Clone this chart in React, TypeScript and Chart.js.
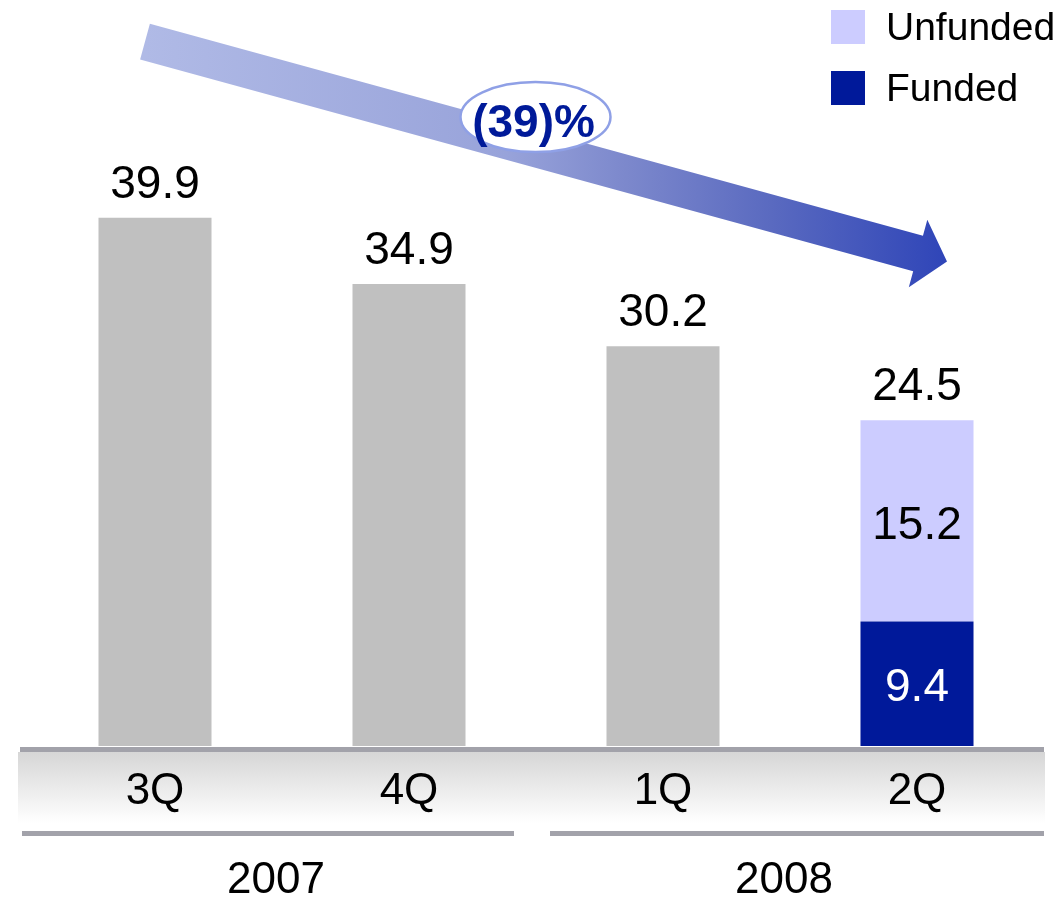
import React, { useEffect, useRef } from 'react';
import { Chart, registerables } from 'chart.js';

Chart.register(...registerables);

// ---- data ----
const categories = ['3Q', '4Q', '1Q', '2Q'];
const years = ['2007', '2008'];
const yearGroups = [[0, 1], [2, 3]];
const totalValues: (number | null)[] = [39.9, 34.9, 30.2, null];
const fundedValues: (number | null)[] = [null, null, null, 9.4];
const unfundedValues: (number | null)[] = [null, null, null, 15.2];
const stackTotals = [39.9, 34.9, 30.2, 24.5];
const yMax = 50;

const FONT = "'Liberation Sans', Arial, Helvetica, sans-serif";
const GRAY_BAR = '#c0c0c0';
const FUNDED = '#00199a';
const UNFUNDED = '#ccccff';
const AXIS_GRAY = '#a2a2aa';

const decorPlugin = {
  id: 'decor',
  afterDraw(chart: any) {
    const ctx: CanvasRenderingContext2D = chart.ctx;
    const ca = chart.chartArea;
    const xs = chart.scales.x;
    const ys = chart.scales.y;
    ctx.save();

    // bottom band with gradient
    const bandTop = ca.bottom + 6;
    const bandH = 71;
    const g = ctx.createLinearGradient(0, bandTop, 0, bandTop + bandH);
    g.addColorStop(0, '#d6d6d6');
    g.addColorStop(1, '#ffffff');
    ctx.fillStyle = g;
    ctx.fillRect(ca.left - 10, bandTop, ca.right - ca.left + 11, bandH);

    // baseline
    ctx.fillStyle = AXIS_GRAY;
    ctx.fillRect(ca.left - 8, ca.bottom + 1, ca.right - ca.left + 8, 5);

    // quarter labels
    ctx.fillStyle = '#000';
    ctx.font = `44px ${FONT}`;
    ctx.textAlign = 'center';
    ctx.textBaseline = 'alphabetic';
    categories.forEach((c, i) => {
      ctx.fillText(c, xs.getPixelForValue(i), ca.bottom + 58);
    });

    // year group lines and labels
    const catW = (ca.right - ca.left) / categories.length;
    yearGroups.forEach((grp, gi) => {
      const x0 = xs.getPixelForValue(grp[0]) - catW / 2;
      const x1 = xs.getPixelForValue(grp[1]) + catW / 2;
      const lx0 = gi === 0 ? x0 - 6 : x0 + 14;
      const lx1 = gi === 0 ? x1 - 22 : x1;
      ctx.fillStyle = AXIS_GRAY;
      ctx.fillRect(lx0, ca.bottom + 85, lx1 - lx0, 5);
      ctx.fillStyle = '#000';
      ctx.font = `44px ${FONT}`;
      const cx = (xs.getPixelForValue(grp[0]) + xs.getPixelForValue(grp[1])) / 2 - 6;
      ctx.fillText(years[gi], cx, ca.bottom + 147);
    });

    // trend arrow
    const p0x = xs.getPixelForValue(0) - 10;
    const p0y = ys.getPixelForValue(53.2);
    const tx = xs.getPixelForValue(3) + 30;
    const ty = ys.getPixelForValue(36.6);
    const dx = tx - p0x, dy = ty - p0y;
    const len = Math.hypot(dx, dy);
    const ux = dx / len, uy = dy / len;
    const nx = -uy, ny = ux;
    const hw = 18.5, headHW = 35, headLen = 30;
    const bx = tx - ux * headLen, by = ty - uy * headLen;
    const ag = ctx.createLinearGradient(p0x, 0, tx, 0);
    ag.addColorStop(0, '#b0bae6');
    ag.addColorStop(0.45, '#98a3da');
    ag.addColorStop(0.6, '#7c88cc');
    ag.addColorStop(0.78, '#5a6ac0');
    ag.addColorStop(1, '#2f45b8');
    ctx.fillStyle = ag;
    ctx.beginPath();
    ctx.moveTo(p0x - nx * hw, p0y - ny * hw);
    ctx.lineTo(bx - nx * hw, by - ny * hw);
    ctx.lineTo(bx - nx * headHW, by - ny * headHW);
    ctx.lineTo(tx, ty);
    ctx.lineTo(bx + nx * headHW, by + ny * headHW);
    ctx.lineTo(bx + nx * hw, by + ny * hw);
    ctx.lineTo(p0x + nx * hw, p0y + ny * hw);
    ctx.closePath();
    ctx.fill();

    // percent change bubble
    const change = Math.round((1 - stackTotals[stackTotals.length - 1] / stackTotals[0]) * 100);
    const ex = (xs.getPixelForValue(1) + xs.getPixelForValue(2)) / 2 - 0.5;
    const ey = ys.getPixelForValue(47.5);
    ctx.beginPath();
    ctx.ellipse(ex, ey, 75, 35, 0, 0, Math.PI * 2);
    ctx.fillStyle = '#ffffff';
    ctx.fill();
    ctx.lineWidth = 2.5;
    ctx.strokeStyle = '#8fa0e6';
    ctx.stroke();
    ctx.fillStyle = '#001a99';
    ctx.font = `bold 46px ${FONT}`;
    ctx.textAlign = 'center';
    ctx.textBaseline = 'alphabetic';
    ctx.fillText(`(${change})%`, ex - 2, ey + 20);

    // legend (Unfunded above Funded)
    const legendItems = [
      { label: chart.data.datasets[2].label, color: chart.data.datasets[2].backgroundColor },
      { label: chart.data.datasets[1].label, color: chart.data.datasets[1].backgroundColor },
    ];
    ctx.font = `39px ${FONT}`;
    ctx.textAlign = 'left';
    ctx.textBaseline = 'middle';
    legendItems.forEach((it, i) => {
      const top = 10 + i * 61;
      ctx.fillStyle = it.color;
      ctx.fillRect(831, top, 34, 34);
      ctx.fillStyle = '#000';
      ctx.fillText(it.label, 886, top + 19);
    });

    ctx.restore();
  },
  afterDatasetsDraw(chart: any) {
    const ctx: CanvasRenderingContext2D = chart.ctx;
    ctx.save();
    ctx.font = `46px ${FONT}`;
    ctx.textAlign = 'center';
    ctx.textBaseline = 'alphabetic';
    // totals above bars
    const m0 = chart.getDatasetMeta(0);
    const m2 = chart.getDatasetMeta(2);
    categories.forEach((_, i) => {
      let el: any = null;
      if (totalValues[i] != null) el = m0.data[i];
      else if (unfundedValues[i] != null) el = m2.data[i];
      if (!el) return;
      ctx.fillStyle = '#000';
      ctx.fillText(stackTotals[i].toFixed(1), el.x, el.y - 20);
    });
    // inside labels for stacked segments
    [
      { ds: 1, vals: fundedValues, color: '#ffffff' },
      { ds: 2, vals: unfundedValues, color: '#000000' },
    ].forEach(({ ds, vals, color }) => {
      const meta = chart.getDatasetMeta(ds);
      vals.forEach((v, i) => {
        if (v == null) return;
        const el: any = meta.data[i];
        ctx.fillStyle = color;
        ctx.textBaseline = 'middle';
        ctx.fillText(v.toFixed(1), el.x, (el.y + el.base) / 2 + 5);
      });
    });
    ctx.restore();
  },
};

export default function App() {
  const ref = useRef<HTMLCanvasElement | null>(null);
  useEffect(() => {
    if (!ref.current) return;
    const chart = new Chart(ref.current, {
      type: 'bar',
      data: {
        labels: categories,
        datasets: [
          { label: 'Total', data: totalValues, backgroundColor: GRAY_BAR, barPercentage: 0.445, categoryPercentage: 1 },
          { label: 'Funded', data: fundedValues, backgroundColor: FUNDED, barPercentage: 0.445, categoryPercentage: 1 },
          { label: 'Unfunded', data: unfundedValues, backgroundColor: UNFUNDED, barPercentage: 0.445, categoryPercentage: 1 },
        ],
      },
      options: {
        responsive: false,
        animation: false,
        devicePixelRatio: 1,
        layout: { padding: { left: 28, right: 16, top: 84, bottom: 152 } },
        scales: {
          x: { display: false, stacked: true },
          y: { display: false, stacked: true, min: 0, max: yMax },
        },
        plugins: { legend: { display: false }, tooltip: { enabled: false } },
      },
      plugins: [decorPlugin],
    } as any);
    return () => chart.destroy();
  }, []);
  return (
    <div style={{ position: 'fixed', left: 0, top: 0, width: 1060, height: 898, background: '#fff' }}>
      <canvas ref={ref} width={1060} height={898} />
    </div>
  );
}
